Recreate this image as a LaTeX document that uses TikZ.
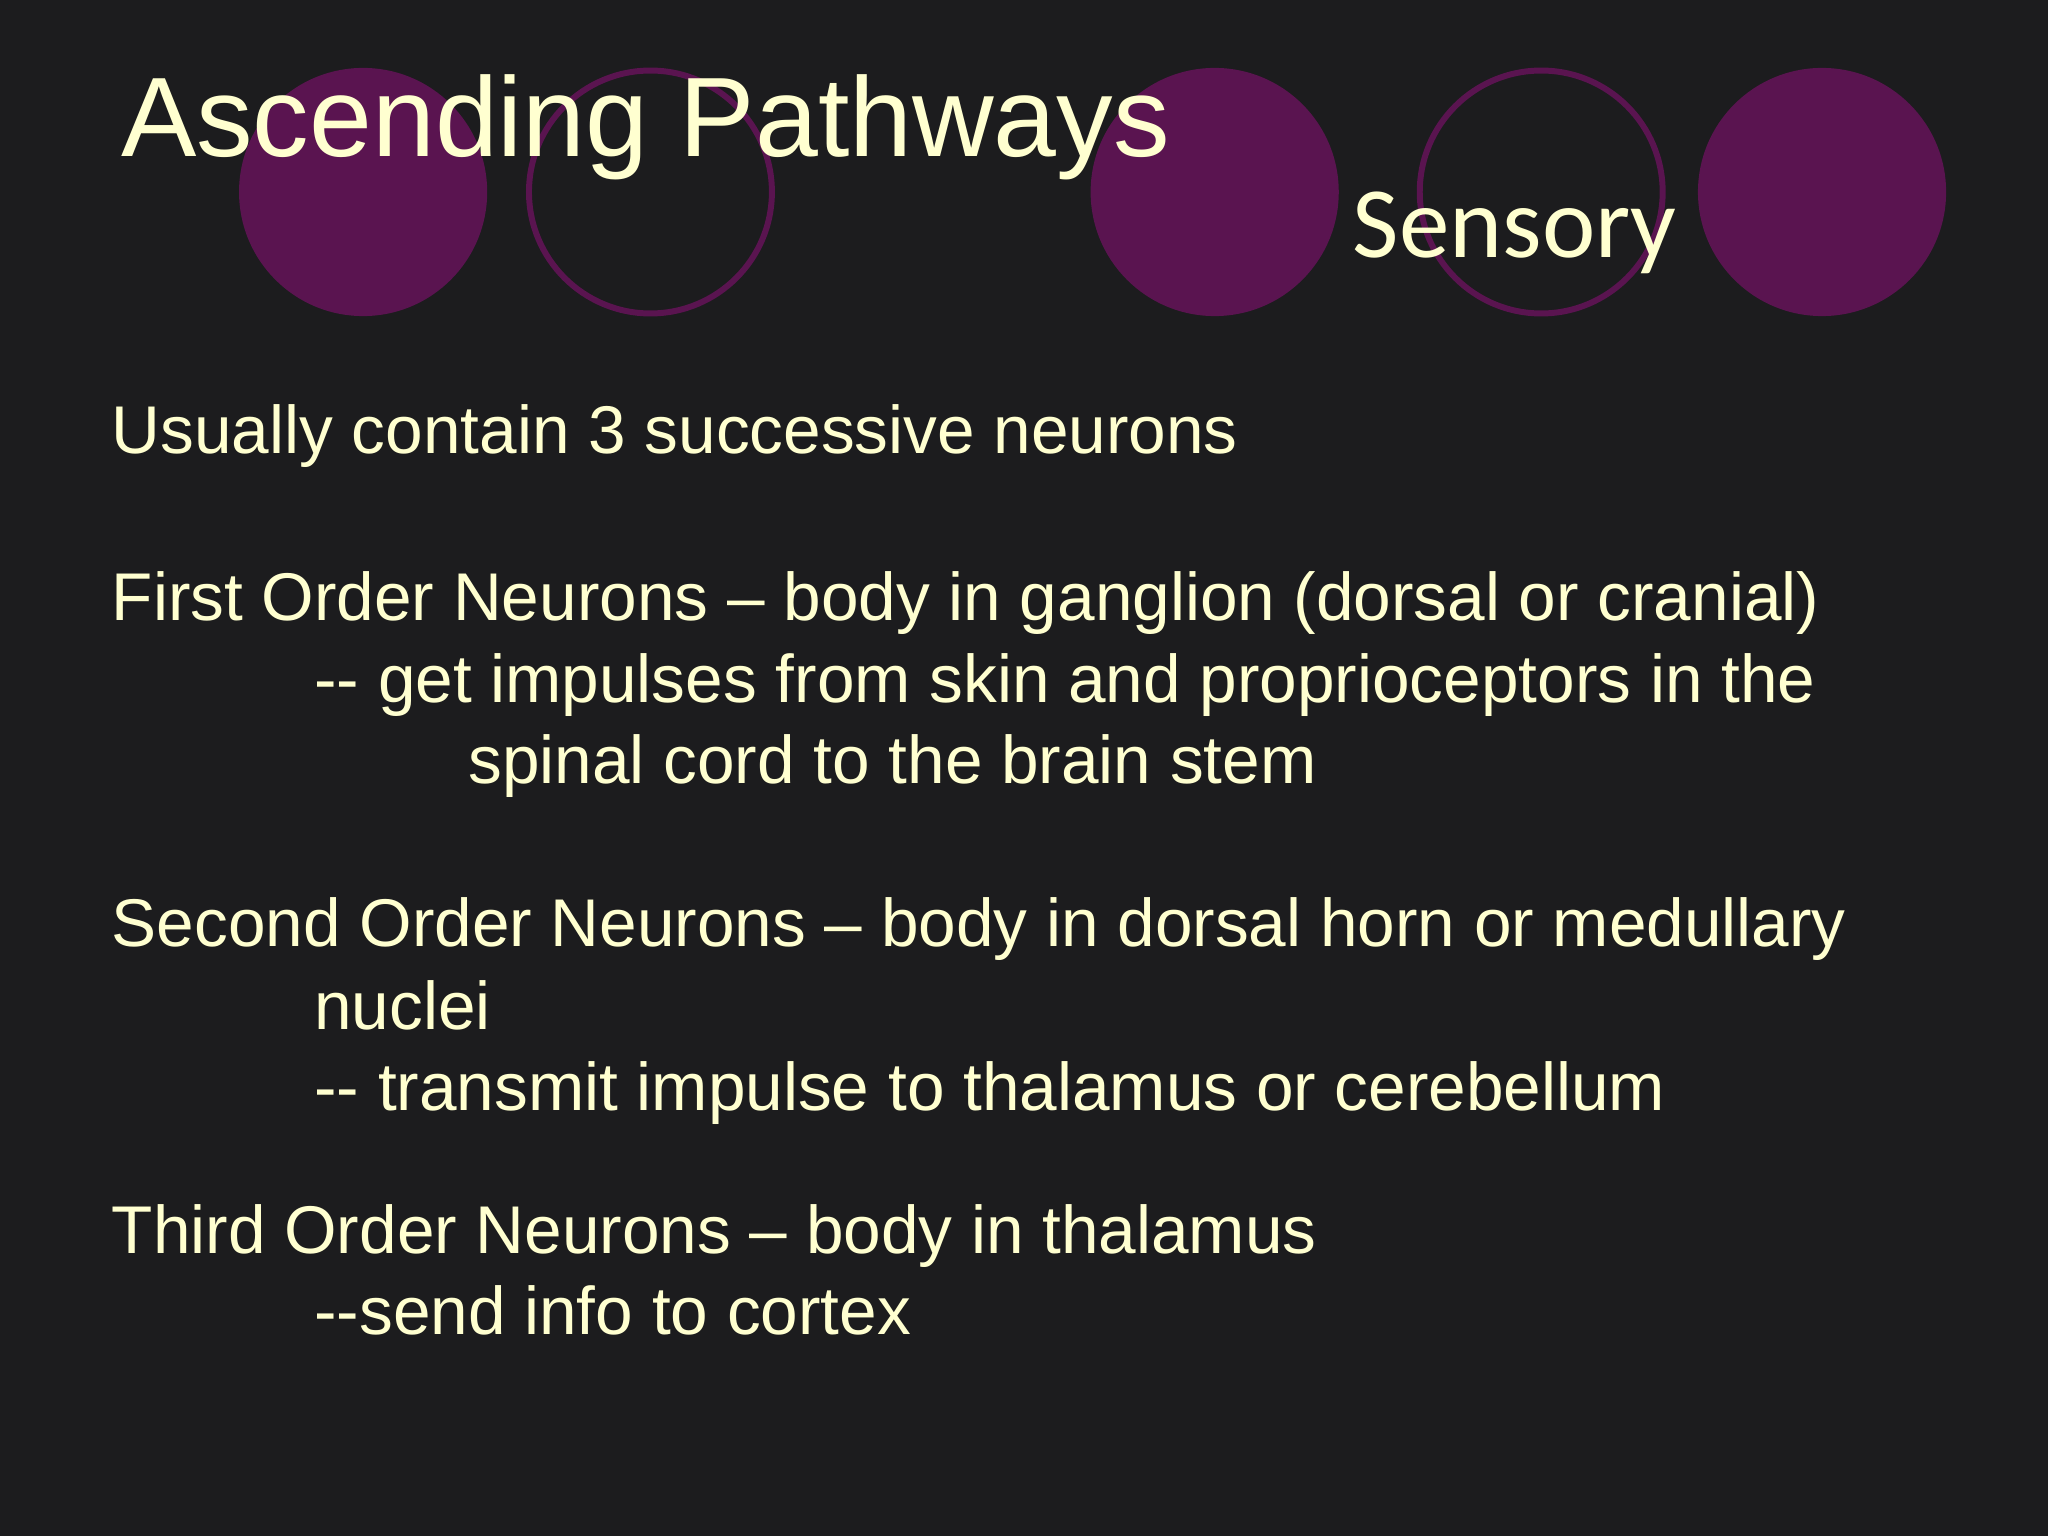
\documentclass[tikz,border=0pt]{standalone}
\usepackage{fontspec}
\setmainfont{Liberation Sans}
\newfontfamily\sensfont{Carlito}
\definecolor{slidebg}{HTML}{1C1C1E}
\definecolor{plum}{HTML}{5A1450}
\definecolor{cream}{HTML}{FFFFD0}
\begin{document}
\begin{tikzpicture}[x=0.01cm,y=-0.01cm,
    body/.style={anchor=base west,inner sep=0pt,text=cream,font=\fontsize{14.7pt}{17pt}\selectfont},
    dot/.style={fill=plum},
    ring/.style={draw=plum,line width=1.3pt}]
    \fill [slidebg] (0,0) rectangle (1568,1176);
    \useasboundingbox (0,0) rectangle (1568,1176);
    % circles
    \fill [dot] (278,147) circle (95);
    \draw [ring] (498,147) circle (93);
    \fill [dot] (930,147) circle (95);
    \draw [ring] (1180,147) circle (93);
    \fill [dot] (1395,147) circle (95);
    % headings
    \node (title) [anchor=base west,inner sep=0pt,text=cream,font=\fontsize{24.6pt}{28pt}\selectfont] at (92,120) {Ascending Pathways};
    \node (sensory) [anchor=base west,inner sep=0pt,text=cream,font=\sensfont\fontsize{22pt}{26pt}\selectfont] at (1035,197) {Sensory};
    % body
    \node (usually) [body] at (85,347) {Usually contain 3 successive neurons};
    \node (first) [body] at (85,475) {First Order Neurons -- body in ganglion (dorsal or cranial)};
    \node (firsta) [body] at (240,538) {-{}- get impulses from skin and proprioceptors in the};
    \node (firstb) [body] at (358,600) {spinal cord to the brain stem};
    \node (second) [body] at (85,725) {Second Order Neurons -- body in dorsal horn or medullary};
    \node (seconda) [body] at (240,788) {nuclei};
    \node (secondb) [body] at (240,850) {-{}- transmit impulse to thalamus or cerebellum};
    \node (third) [body] at (85,960) {Third Order Neurons -- body in thalamus};
    \node (thirda) [body] at (240,1022) {-{}-send info to cortex};
\end{tikzpicture}
\end{document}
